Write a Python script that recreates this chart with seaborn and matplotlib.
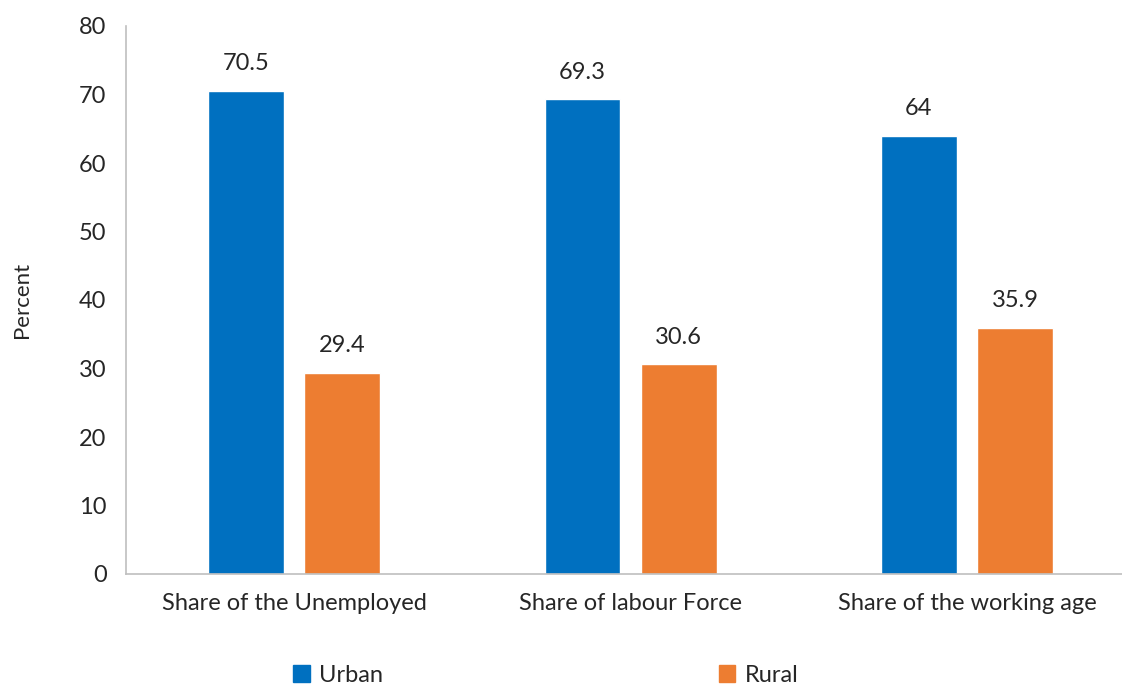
import pandas as pd
import matplotlib.pyplot as plt
import seaborn as sns
from matplotlib.patches import Patch

categories = ["Share of the Unemployed", "Share of labour Force", "Share of the working age"]
urban = [70.5, 69.3, 64]
rural = [29.4, 30.6, 35.9]
labels = ["70.5", "69.3", "64", "29.4", "30.6", "35.9"]

df = pd.DataFrame({
    "category": categories * 2,
    "area": ["Urban"] * 3 + ["Rural"] * 3,
    "value": urban + rural,
})

sns.set_style("white")
plt.rcParams["font.family"] = ["Lato", "DejaVu Sans"]
colors = {"Urban": "#0070C0", "Rural": "#ED7D31"}

fig = plt.figure(figsize=(11.22, 6.84), dpi=100)
ax = fig.add_axes([126 / 1122, 110 / 684, 996 / 1122, 548 / 684])

sns.barplot(data=df, x="category", y="value", hue="area", palette=colors,
            width=0.571, gap=0.21, ax=ax, legend=False, saturation=1)

for cont, labs in zip(ax.containers, [labels[:3], labels[3:]]):
    ax.bar_label(cont, labels=labs, padding=12, fontsize=17)

ax.set_ylim(0, 80)
ax.set_xlim(-0.5, 2.461)
ax.set_yticks(range(0, 81, 10))
ax.tick_params(axis="y", labelsize=17, length=0, pad=14)
ax.tick_params(axis="x", labelsize=17, length=0, pad=14)
ax.set_xlabel("")
ax.set_ylabel("Percent", fontsize=16, labelpad=34)
for s in ["top", "right"]:
    ax.spines[s].set_visible(False)
for s in ["left", "bottom"]:
    ax.spines[s].set_color("#BFBFBF")
    ax.spines[s].set_linewidth(1.2)

handles = [Patch(color=colors["Urban"], label="Urban"),
           Patch(color=colors["Rural"], label="Rural")]
fig.legend(handles=handles, loc="center", bbox_to_anchor=(0.4866, 0.013), ncol=2,
           frameon=False, fontsize=17, handlelength=0.7, handleheight=0.7,
           handletextpad=0.4, columnspacing=14.2)

fig.savefig("out.png", dpi=100)
